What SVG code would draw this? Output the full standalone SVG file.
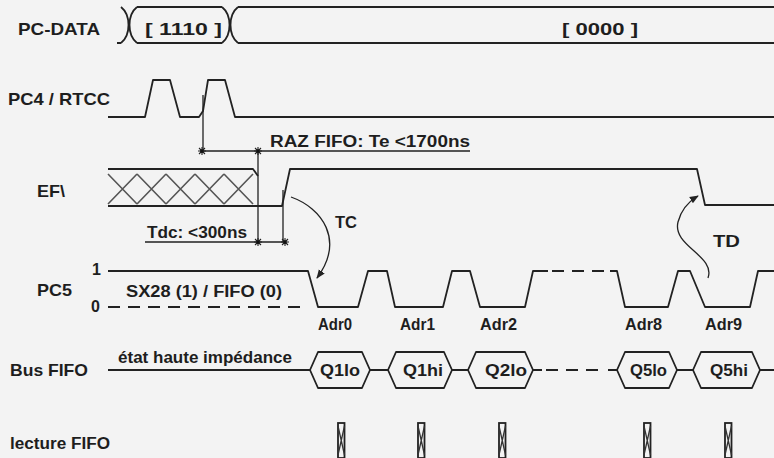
<svg xmlns="http://www.w3.org/2000/svg" width="774" height="458" viewBox="0 0 774 458">
<style>
text{font-family:"Liberation Sans",Arial,sans-serif;font-weight:bold;fill:#1e1e1e;font-size:17px}
.s{fill:none;stroke:#222;stroke-width:1.8;stroke-linejoin:round}
.t{fill:none;stroke:#222;stroke-width:1.3}
.h{fill:none;stroke:#555;stroke-width:1.6}
.d{fill:none;stroke:#222;stroke-width:1.8;stroke-dasharray:12 8}
.hex{fill:none;stroke:#222;stroke-width:1.8;stroke-linejoin:round}
.sm{font-size:16px}
</style>
<defs>
<g id="star"><path d="M-4,0H4M0,-4V4M-3,-3L3,3M-3,3L3,-3" stroke="#222" stroke-width="1.1"/><circle r="1.6" fill="#111"/></g>
<marker id="ah" viewBox="0 0 10 10" refX="9" refY="5" markerWidth="9" markerHeight="9" orient="auto" markerUnits="userSpaceOnUse"><path d="M0,1L10,5L0,9z" fill="#222"/></marker>
<g id="clip"><rect x="-3" y="0" width="6.5" height="35" fill="none" stroke="#222" stroke-width="1.8"/><path d="M-3,3L3.5,32M3.5,3L-3,32" stroke="#333" stroke-width="1.3"/></g>
</defs>
<rect width="774" height="458" fill="#f3f3f3"/>

<g id="pcdata">
<text x="18" y="35" textLength="82" lengthAdjust="spacingAndGlyphs">PC-DATA</text>
<path class="s" d="M117,43H121M121,7C131,15 131,35 121,43M137,7C127,15 127,35 137,43M137,7H222M137,43H222M222,7C232,15 232,35 222,43M238,7C228,15 228,35 238,43M238,7H774M238,43H774"/>
<text x="145" y="35" textLength="77" lengthAdjust="spacingAndGlyphs">[ 1110 ]</text>
<text x="562" y="35" textLength="76" lengthAdjust="spacingAndGlyphs">[ 0000 ]</text>
</g>

<g id="pc4">
<text x="8" y="105" textLength="102" lengthAdjust="spacingAndGlyphs">PC4 / RTCC</text>
<path class="s" d="M108,117H145L153,80H170L180,117H199L203,111L208,80H225L235,117H774"/>
</g>

<g id="ef">
<text x="37" y="197" textLength="28" lengthAdjust="spacingAndGlyphs">EF\</text>
<path class="s" d="M108,169H253L258,176M108,206H282L290,169H697L705,205H774"/>
<path class="h" d="M108,174L137,204M108,204L137,174M137,174L166,204M137,204L166,174M166,174L195,204M166,204L195,174M195,174L224,204M195,204L224,174M224,174L253,204M224,204L253,174"/>
</g>

<g id="pc5">
<text x="37" y="296" textLength="35" lengthAdjust="spacingAndGlyphs">PC5</text>
<text x="92" y="275" class="sm">1</text>
<text x="91" y="312" class="sm">0</text>
<text x="126" y="297" class="sm" textLength="156" lengthAdjust="spacingAndGlyphs">SX28 (1) / FIFO (0)</text>
<path class="s" d="M108,271H308L318,307H358L368,271H387L395,307H443L452,271H470L480,307H525L533,271H548M610,271H617L625,307H668L678,271H690L705,307H750L758,271H774"/>
<path class="d" d="M552,271H608"/>
<path class="d" d="M108,307H302"/>
<text x="318" y="330" class="sm" textLength="34" lengthAdjust="spacingAndGlyphs">Adr0</text>
<text x="400" y="330" class="sm" textLength="35" lengthAdjust="spacingAndGlyphs">Adr1</text>
<text x="480" y="330" class="sm" textLength="37" lengthAdjust="spacingAndGlyphs">Adr2</text>
<text x="625" y="330" class="sm" textLength="37" lengthAdjust="spacingAndGlyphs">Adr8</text>
<text x="705" y="330" class="sm" textLength="37" lengthAdjust="spacingAndGlyphs">Adr9</text>
</g>

<g id="busfifo">
<text x="10" y="376" textLength="78" lengthAdjust="spacingAndGlyphs">Bus FIFO</text>
<text x="118" y="363" class="sm" textLength="174" lengthAdjust="spacingAndGlyphs">état haute impédance</text>
<path class="s" d="M108,370H310M370,370H388M452,370H468M533,370H542M608,370H617M677,370H693M760,370H774"/>
<path class="d" d="M546,370H606"/>
<path class="hex" d="M310,370L318,352H362L370,370L362,388H318Z"/>
<path class="hex" d="M388,370L396,352H444L452,370L444,388H396Z"/>
<path class="hex" d="M468,370L476,352H525L533,370L525,388H476Z"/>
<path class="hex" d="M617,370L625,352H669L677,370L669,388H625Z"/>
<path class="hex" d="M693,370L701,352H752L760,370L752,388H701Z"/>
<text x="320" y="376" class="sm" textLength="40" lengthAdjust="spacingAndGlyphs">Q1lo</text>
<text x="403" y="376" class="sm" textLength="40" lengthAdjust="spacingAndGlyphs">Q1hi</text>
<text x="485" y="376" class="sm" textLength="42" lengthAdjust="spacingAndGlyphs">Q2lo</text>
<text x="630" y="376" class="sm" textLength="37" lengthAdjust="spacingAndGlyphs">Q5lo</text>
<text x="710" y="376" class="sm" textLength="38" lengthAdjust="spacingAndGlyphs">Q5hi</text>
</g>

<g id="lecture">
<text x="10" y="449" class="sm" textLength="100" lengthAdjust="spacingAndGlyphs">lecture FIFO</text>
<use href="#clip" x="341" y="423"/>
<use href="#clip" x="421" y="423"/>
<use href="#clip" x="502" y="423"/>
<use href="#clip" x="647" y="423"/>
<use href="#clip" x="728" y="423"/>
</g>

<g id="connectors">
<path class="t" d="M203,95V151M200,151H470M258,151V242M283,190V242M145,242H286"/>
<use href="#star" x="202" y="151"/>
<use href="#star" x="258" y="151"/>
<use href="#star" x="258" y="242"/>
<use href="#star" x="285" y="242"/>
<text x="270" y="147" class="sm" textLength="200" lengthAdjust="spacingAndGlyphs">RAZ  FIFO:  Te &lt;1700ns</text>
<text x="147" y="238" class="sm" textLength="100" lengthAdjust="spacingAndGlyphs">Tdc: &lt;300ns</text>
<path class="t" stroke-width="1.6" d="M291,197C322,208 345,240 317,278" marker-end="url(#ah)"/>
<text x="335" y="228" class="sm" textLength="22" lengthAdjust="spacingAndGlyphs">TC</text>
<path class="t" stroke-width="1.6" d="M708,278C716,256 672,246 678,222C681,210 688,202 698,196" marker-end="url(#ah)"/>
<text x="713" y="247" class="sm" textLength="27" lengthAdjust="spacingAndGlyphs">TD</text>
</g>
</svg>
